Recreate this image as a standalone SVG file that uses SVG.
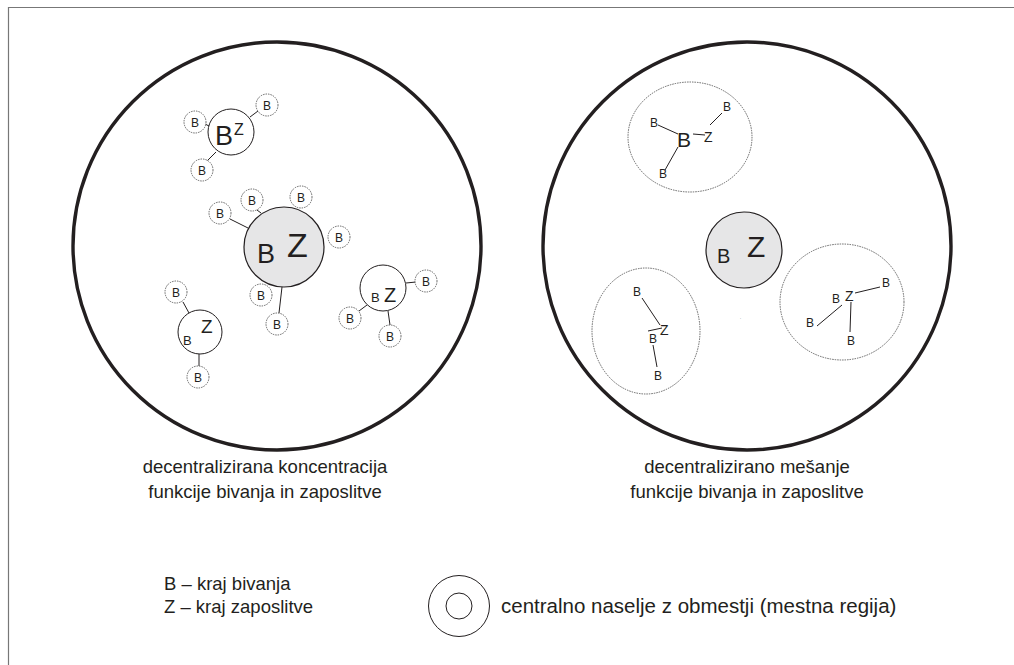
<svg xmlns="http://www.w3.org/2000/svg" width="1014" height="665" viewBox="0 0 1014 665">
<style>
text{font-family:"Liberation Sans",Arial,sans-serif;fill:#231f20}
.big{fill:none;stroke:#231f20;stroke-width:3.4}
.node{fill:#fff;stroke:#231f20;stroke-width:1}
.gray{fill:#e6e6e7;stroke:#231f20;stroke-width:1.2}
.sat{fill:#fff;stroke:#555;stroke-width:0.9;stroke-dasharray:1.5 1}
.reg{fill:none;stroke:#555;stroke-width:0.9;stroke-dasharray:1.5 1}
.ln{stroke:#231f20;stroke-width:1;fill:none}
.s{font-size:12px;text-anchor:middle}
.lbl{font-size:18.5px;text-anchor:middle}
.leg{font-size:18.5px}
</style>
<path d="M8.5,665 V7.5 H1014" fill="none" stroke="#777" stroke-width="1.2"/>
<g id="region-left"><circle class="big" cx="277" cy="246" r="204"/></g>
<g id="region-right"><circle class="big" cx="747" cy="246" r="204"/></g>

<g id="connectors">
<line class="ln" x1="250" y1="117" x2="258" y2="111"/>
<line class="ln" x1="205" y1="124" x2="209" y2="126"/>
<line class="ln" x1="207" y1="161" x2="216" y2="152"/>
<line class="ln" x1="230" y1="219" x2="248" y2="228"/>
<line class="ln" x1="257" y1="210" x2="261" y2="213"/>
<line class="ln" x1="282" y1="287" x2="279" y2="313"/>
<line class="ln" x1="183" y1="302" x2="189" y2="313"/>
<line class="ln" x1="199" y1="354" x2="199" y2="366"/>
<line class="ln" x1="406" y1="283" x2="416" y2="282"/>
<line class="ln" x1="359" y1="311" x2="367" y2="305"/>
<line class="ln" x1="388" y1="311" x2="390" y2="325"/>
<line class="ln" x1="658" y1="125" x2="678" y2="134"/>
<line class="ln" x1="665" y1="170" x2="678" y2="147"/>
<line class="ln" x1="693" y1="134" x2="705" y2="135"/>
<line class="ln" x1="710" y1="125" x2="722" y2="113"/>
<line class="ln" x1="642" y1="298" x2="660" y2="325"/>
<line class="ln" x1="648" y1="331" x2="662" y2="328"/>
<line class="ln" x1="653" y1="345" x2="657" y2="367"/>
<line class="ln" x1="855" y1="293" x2="880" y2="287"/>
<line class="ln" x1="851" y1="302" x2="850" y2="332"/>
<line class="ln" x1="842" y1="305" x2="817" y2="326"/>
</g>

<g id="node-left-top">
<circle class="node" cx="231" cy="132" r="23"/>
<text x="215" y="145" font-size="27">B</text>
<text x="234" y="135" font-size="16">Z</text>
<circle class="sat" cx="267" cy="105" r="11"/><text class="s" x="267" y="109.5">B</text>
<circle class="sat" cx="195" cy="122" r="11"/><text class="s" x="195" y="126.5">B</text>
<circle class="sat" cx="202" cy="170" r="11"/><text class="s" x="202" y="174.5">B</text>
</g>

<g id="node-left-center">
<circle class="gray" cx="284" cy="247" r="40"/>
<text x="257" y="263" font-size="27">B</text>
<text x="287" y="257" font-size="34">Z</text>
<circle class="sat" cx="220" cy="213" r="11"/><text class="s" x="220" y="217.5">B</text>
<circle class="sat" cx="252" cy="200" r="11"/><text class="s" x="252" y="204.5">B</text>
<circle class="sat" cx="301" cy="197" r="11"/><text class="s" x="301" y="201.5">B</text>
<circle class="sat" cx="339" cy="237" r="11"/><text class="s" x="339" y="241.5">B</text>
<circle class="sat" cx="261" cy="295" r="11"/><text class="s" x="261" y="299.5">B</text>
<circle class="sat" cx="277" cy="324" r="11"/><text class="s" x="277" y="328.5">B</text>
</g>

<g id="node-left-bottom">
<circle class="node" cx="200" cy="332" r="22"/>
<text x="183" y="345" font-size="13">B</text>
<text x="201" y="333" font-size="19">Z</text>
<circle class="sat" cx="176" cy="292" r="11"/><text class="s" x="176" y="296.5">B</text>
<circle class="sat" cx="198" cy="377" r="11"/><text class="s" x="198" y="381.5">B</text>
</g>

<g id="node-left-right">
<circle class="node" cx="383" cy="288" r="23"/>
<text x="371" y="302" font-size="13">B</text>
<text x="384" y="302" font-size="20">Z</text>
<circle class="sat" cx="426" cy="281" r="11"/><text class="s" x="426" y="285.5">B</text>
<circle class="sat" cx="350" cy="318" r="11"/><text class="s" x="350" y="322.5">B</text>
<circle class="sat" cx="390" cy="336" r="11"/><text class="s" x="390" y="340.5">B</text>
</g>

<g id="node-right-top">
<ellipse class="reg" cx="690" cy="137" rx="62" ry="55"/>
<text x="677" y="147" font-size="21">B</text>
<text x="704" y="142" font-size="14">Z</text>
<text x="727" y="111" class="s">B</text>
<text x="654" y="127" class="s">B</text>
<text x="663" y="178" class="s">B</text>
</g>

<g id="node-right-center">
<circle class="gray" cx="744" cy="250" r="38"/>
<text x="717" y="263" font-size="20">B</text>
<text x="747" y="257" font-size="30">Z</text>
<text x="740" y="319" font-size="4">.</text>
</g>

<g id="node-right-left">
<ellipse class="reg" cx="646" cy="331" rx="54" ry="63"/>
<text x="637" y="296" class="s">B</text>
<text x="660" y="335" font-size="14">Z</text>
<text x="653" y="343" class="s">B</text>
<text x="658" y="380" class="s">B</text>
</g>

<g id="node-right-right">
<ellipse class="reg" cx="842" cy="302" rx="62" ry="58"/>
<text x="845" y="301" font-size="14">Z</text>
<text x="886" y="287" class="s">B</text>
<text x="836" y="303" class="s">B</text>
<text x="810" y="327" class="s">B</text>
<text x="851" y="345" class="s">B</text>
</g>

<g id="labels">
<text class="lbl" x="265" y="473">decentralizirana koncentracija</text>
<text class="lbl" x="265" y="498">funkcije bivanja in zaposlitve</text>
<text class="lbl" x="747" y="473">decentralizirano mešanje</text>
<text class="lbl" x="747" y="498">funkcije bivanja in zaposlitve</text>
</g>

<g id="legend">
<text class="leg" x="164" y="590">B – kraj bivanja</text>
<text class="leg" x="164" y="613">Z – kraj zaposlitve</text>
<circle cx="459" cy="606" r="30.5" fill="none" stroke="#231f20" stroke-width="1"/>
<circle cx="459" cy="606" r="13" fill="none" stroke="#231f20" stroke-width="1"/>
<text x="501" y="613" font-size="20.5">centralno naselje z obmestji (mestna regija)</text>
</g>
</svg>
